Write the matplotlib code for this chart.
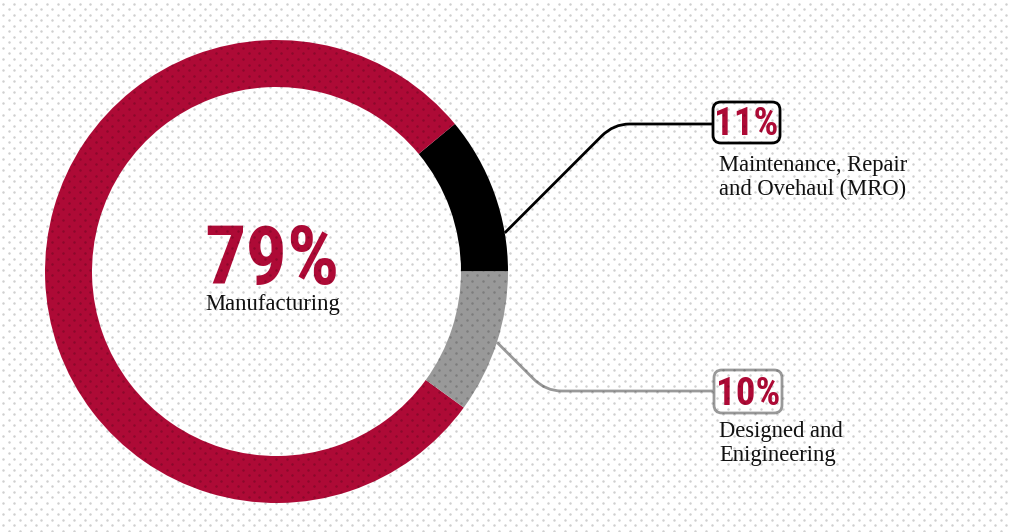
import numpy as np
import matplotlib
matplotlib.use("Agg")
import matplotlib.pyplot as plt
from matplotlib.path import Path
from matplotlib.patches import PathPatch, FancyBboxPatch
from matplotlib import font_manager

# --- data -------------------------------------------------------------
segments = ["Maintenance, Repair\nand Ovehaul (MRO)", "Manufacturing", "Designed and\nEnigineering"]
shares = [11, 79, 10]
seg_colors = ["#000000", "#ae0a36", "#999999"]

W, H = 1011, 532
RED = "#ae0a36"

def pick(*names):
    have = {f.name for f in font_manager.fontManager.ttflist}
    return [n for n in names if n in have] + ["DejaVu Sans"]

COND = pick("Liberation Sans Narrow", "Roboto Condensed", "DejaVu Sans")
SERIF = pick("Liberation Serif", "DejaVu Serif")

fig = plt.figure(figsize=(W / 100, H / 100), dpi=100)
ax = fig.add_axes([0, 0, 1, 1])

def Y(y):
    # pixel row measured from the top -> data y
    return H - y

# --- donut --------------------------------------------------------------
cx, cy, r_out, ring = 276.5, Y(271.5), 231.5, 47
wedges, _ = ax.pie(shares, colors=seg_colors, startangle=0, counterclock=True,
                   center=(cx, cy), radius=r_out,
                   wedgeprops=dict(width=ring, linewidth=0), frame=True)
ax.set_xlim(0, W)
ax.set_ylim(0, H)
ax.set_aspect("equal")
ax.axis("off")

# centre figure
ax.text(272, Y(284), f"{shares[1]}%", color=RED, fontsize=59, fontweight="bold",
        family=COND, ha="center", va="baseline")
ax.text(272.5, Y(310), segments[1], color="#111111", fontsize=16.3,
        family=SERIF, ha="center", va="baseline")

# --- leader lines ---------------------------------------------------------
def leader(angle_deg, corner_y, end_x, color, rad=16):
    a = np.radians(angle_deg)
    x0, y0 = cx + r_out * np.cos(a), cy + r_out * np.sin(a)
    cyd = Y(corner_y)
    dy = cyd - y0
    xc = x0 + abs(dy)
    s = np.sign(dy)
    p1 = (xc - rad * 0.75, cyd - s * rad * 0.75)
    p2 = (xc + rad, cyd)
    verts = [(x0, y0), p1, (xc, cyd), p2, (end_x, cyd)]
    codes = [Path.MOVETO, Path.LINETO, Path.CURVE3, Path.CURVE3, Path.LINETO]
    ax.add_patch(PathPatch(Path(verts, codes), fill=False, edgecolor=color,
                           linewidth=2, capstyle="butt", zorder=3))

leader(9.6, 124, 713, "#000000")
leader(-17.8, 391, 714, "#999999")

# --- callouts -------------------------------------------------------------
def callout(x0, top, bottom, right, edge, value, lines_y, label):
    box = FancyBboxPatch((x0, Y(bottom)), right - x0, bottom - top,
                         boxstyle="round,pad=0,rounding_size=8",
                         facecolor="white", edgecolor=edge, linewidth=2, zorder=4)
    ax.add_patch(box)
    ax.text((x0 + right) / 2, Y(bottom - 8), f"{value}%", color=RED, fontsize=28,
            fontweight="bold", family=COND, ha="center", va="baseline", zorder=5)
    for yy, line in zip(lines_y, label.split("\n")):
        ax.text(719, Y(yy), line, color="#111111", fontsize=16.3, family=SERIF,
                ha="left", va="baseline", zorder=5)

callout(713, 102, 143, 780, "#000000", shares[0], (171, 195), segments[0])
callout(714, 370, 413, 782, "#999999", shares[2], (437, 461), segments[2])

# --- dotted texture ---------------------------------------------------------
ys = np.arange(3.5, H, 5.55)
pts_x, pts_y = [], []
for i, yy in enumerate(ys):
    xs = np.arange(3.3 + (5.45 if i % 2 else 0), W, 10.9)
    pts_x.append(xs)
    pts_y.append(np.full_like(xs, yy))
ax.scatter(np.concatenate(pts_x), Y(np.concatenate(pts_y)), s=3.2, marker="o",
           color="black", alpha=0.19, linewidths=0, zorder=10)

fig.savefig("out.png", dpi=100)
